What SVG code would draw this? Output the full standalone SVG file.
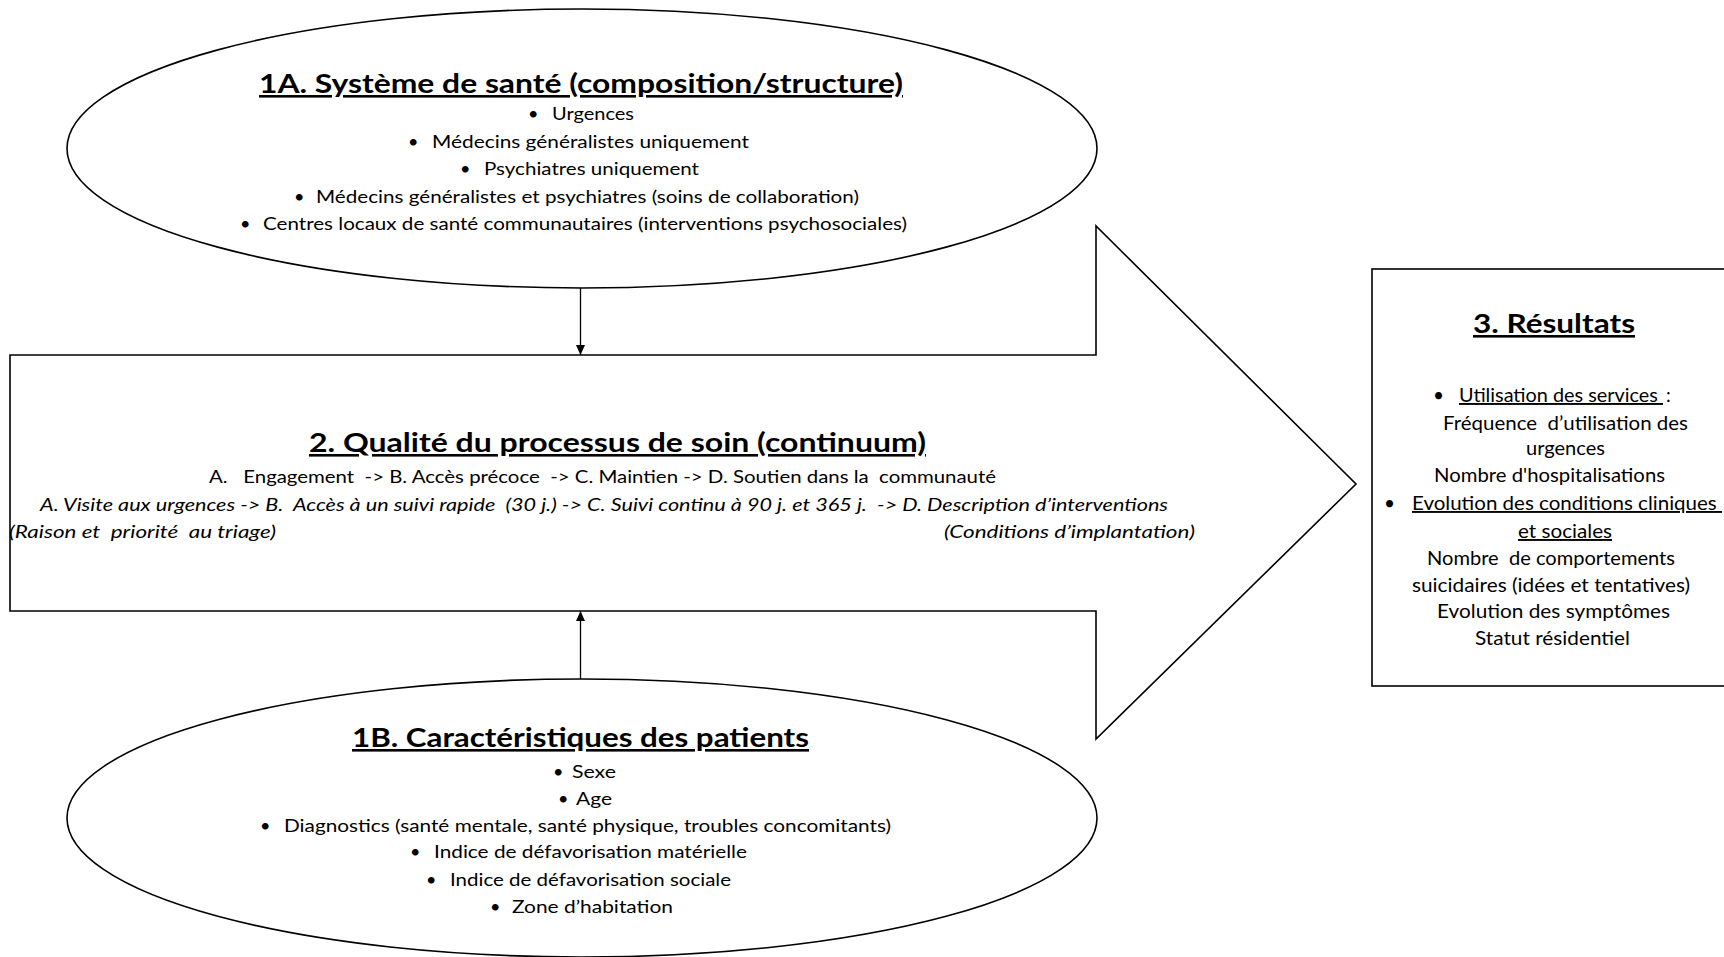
<svg xmlns="http://www.w3.org/2000/svg" width="1724" height="957" viewBox="0 0 1724 957">
<defs>
<style>
.shape{fill:#fff;stroke:#000;stroke-width:1.6}
.t{font-family:Lato,"Open Sans","Liberation Sans",sans-serif;font-size:18px;fill:#000;white-space:pre}
.tb{font-family:Lato,"Open Sans","Liberation Sans",sans-serif;font-size:26px;font-weight:bold;fill:#000;text-decoration:underline}
.ti{font-family:Lato,"Open Sans","Liberation Sans",sans-serif;font-size:18px;font-style:italic;fill:#000;white-space:pre}
.tr{font-family:Lato,"Open Sans","Liberation Sans",sans-serif;font-size:19px;fill:#000;white-space:pre}
.u{text-decoration:underline}
.conn{stroke:#000;stroke-width:1.3;fill:none}
</style>
<marker id="ah" markerUnits="userSpaceOnUse" markerWidth="10" markerHeight="10" refX="10" refY="5" orient="auto">
<path d="M0,0.5 L10,5 L0,9.5 z" fill="#000"/>
</marker>
</defs>
<rect width="1724" height="957" fill="#fff"/>

<g id="node-2-processus">
<polygon class="shape" points="10,355 1096,355 1096,226 1356,484 1096,739 1096,611 10,611"/>
<text class="tb" x="309" y="452" textLength="617" lengthAdjust="spacingAndGlyphs">2. Qualité du processus de soin (continuum)</text>
<text class="t" x="209" y="483" textLength="787" lengthAdjust="spacingAndGlyphs">A.   Engagement  -&gt; B. Accès précoce  -&gt; C. Maintien -&gt; D. Soutien dans la  communauté</text>
<text class="ti" x="40" y="511" textLength="1128" lengthAdjust="spacingAndGlyphs">A. Visite aux urgences -&gt; B.  Accès à un suivi rapide  (30 j.) -&gt; C. Suivi continu à 90 j. et 365 j.  -&gt; D. Description d’interventions</text>
<text class="ti" x="9" y="538" textLength="267" lengthAdjust="spacingAndGlyphs">(Raison et  priorité  au triage)</text>
<text class="ti" x="944" y="538" textLength="251" lengthAdjust="spacingAndGlyphs">(Conditions d’implantation)</text>
</g>

<g id="node-1a-systeme">
<ellipse class="shape" cx="582" cy="148.5" rx="515" ry="139.5"/>
<text class="tb" x="259" y="93" textLength="644" lengthAdjust="spacingAndGlyphs">1A. Système de santé (composition/structure)</text>
<text class="t" x="528" y="120">•</text>
<text class="t" x="552" y="120" textLength="82" lengthAdjust="spacingAndGlyphs">Urgences</text>
<text class="t" x="408" y="148">•</text>
<text class="t" x="432" y="148" textLength="317" lengthAdjust="spacingAndGlyphs">Médecins généralistes uniquement</text>
<text class="t" x="460" y="175">•</text>
<text class="t" x="484" y="175" textLength="215" lengthAdjust="spacingAndGlyphs">Psychiatres uniquement</text>
<text class="t" x="294" y="203">•</text>
<text class="t" x="316" y="203" textLength="543" lengthAdjust="spacingAndGlyphs">Médecins généralistes et psychiatres (soins de collaboration)</text>
<text class="t" x="240" y="230">•</text>
<text class="t" x="263" y="230" textLength="644" lengthAdjust="spacingAndGlyphs">Centres locaux de santé communautaires (interventions psychosociales)</text>
</g>

<g id="node-1b-patients">
<ellipse class="shape" cx="582" cy="818" rx="515" ry="139"/>
<text class="tb" x="352" y="747" textLength="457" lengthAdjust="spacingAndGlyphs">1B. Caractéristiques des patients</text>
<text class="t" x="553" y="778">•</text>
<text class="t" x="572" y="778" textLength="44" lengthAdjust="spacingAndGlyphs">Sexe</text>
<text class="t" x="558" y="805">•</text>
<text class="t" x="576" y="805" textLength="36" lengthAdjust="spacingAndGlyphs">Age</text>
<text class="t" x="260" y="832">•</text>
<text class="t" x="284" y="832" textLength="607" lengthAdjust="spacingAndGlyphs">Diagnostics (santé mentale, santé physique, troubles concomitants)</text>
<text class="t" x="410" y="858">•</text>
<text class="t" x="434" y="858" textLength="313" lengthAdjust="spacingAndGlyphs">Indice de défavorisation matérielle</text>
<text class="t" x="426" y="886">•</text>
<text class="t" x="450" y="886" textLength="281" lengthAdjust="spacingAndGlyphs">Indice de défavorisation sociale</text>
<text class="t" x="490" y="913">•</text>
<text class="t" x="512" y="913" textLength="161" lengthAdjust="spacingAndGlyphs">Zone d’habitation</text>
</g>

<g id="node-3-resultats">
<rect class="shape" x="1372" y="269" width="360" height="417"/>
<text class="tb" x="1473" y="333" textLength="162" lengthAdjust="spacingAndGlyphs">3. Résultats</text>
<text class="tr" x="1433" y="402">•</text>
<text class="tr u" x="1459" y="402" textLength="204" lengthAdjust="spacingAndGlyphs">Utilisation des services </text>
<text class="tr" x="1666" y="402">:</text>
<text class="tr" x="1443" y="430" textLength="245" lengthAdjust="spacingAndGlyphs">Fréquence  d’utilisation des</text>
<text class="tr" x="1526" y="455" textLength="79" lengthAdjust="spacingAndGlyphs">urgences</text>
<text class="tr" x="1434" y="482" textLength="231" lengthAdjust="spacingAndGlyphs">Nombre d'hospitalisations</text>
<text class="tr" x="1384" y="510">•</text>
<text class="tr u" x="1412" y="510" textLength="310" lengthAdjust="spacingAndGlyphs">Evolution des conditions cliniques </text>
<text class="tr u" x="1518" y="538" textLength="94" lengthAdjust="spacingAndGlyphs">et sociales</text>
<text class="tr" x="1427" y="565" textLength="248" lengthAdjust="spacingAndGlyphs">Nombre  de comportements</text>
<text class="tr" x="1412" y="592" textLength="278" lengthAdjust="spacingAndGlyphs">suicidaires (idées et tentatives)</text>
<text class="tr" x="1437" y="618" textLength="233" lengthAdjust="spacingAndGlyphs">Evolution des symptômes</text>
<text class="tr" x="1475" y="645" textLength="155" lengthAdjust="spacingAndGlyphs">Statut résidentiel</text>
</g>

<g id="connectors">
<line class="conn" x1="580.5" y1="288" x2="580.5" y2="355" marker-end="url(#ah)"/>
<line class="conn" x1="580.5" y1="679" x2="580.5" y2="611" marker-end="url(#ah)"/>
</g>
</svg>
